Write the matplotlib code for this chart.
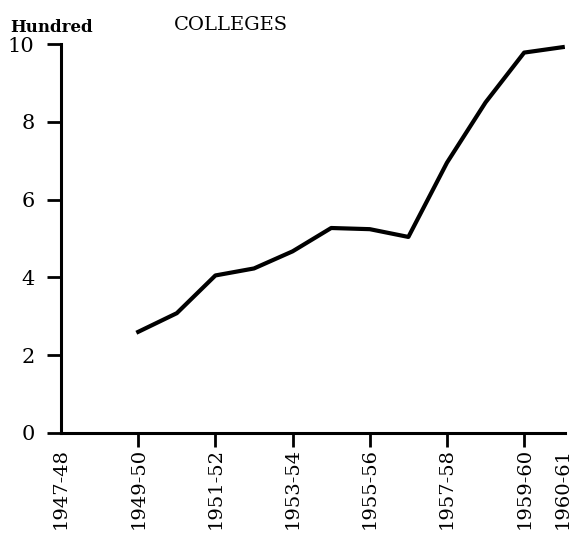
import matplotlib.pyplot as plt
import numpy as np

plt.rcParams['font.family'] = 'DejaVu Serif'

# colleges, in hundreds, by academic year
years = ['1949-50', '1950-51', '1951-52', '1952-53', '1953-54', '1954-55',
         '1955-56', '1956-57', '1957-58', '1958-59', '1959-60', '1960-61']
colleges = [2.6, 3.08, 4.05, 4.23, 4.67, 5.27, 5.24, 5.04, 6.95, 8.5, 9.78, 9.92]

tick_years = ['1947-48', '1949-50', '1951-52', '1953-54', '1955-56',
              '1957-58', '1959-60', '1960-61']
y_ticks = [0, 2, 4, 6, 8, 10]

first = 1947
x = np.array([int(y[:4]) - first for y in years])
xt = np.array([int(y[:4]) - first for y in tick_years])

fig = plt.figure(figsize=(5.73, 5.35), dpi=100)
ax = fig.add_axes([0.1065, 0.1907, 0.879, 0.727])

ax.plot(x, colleges, color='black', lw=3, solid_joinstyle='round')

ax.set_xlim(0, 13.05)
ax.set_ylim(0, 10)
ax.set_xticks(xt)
ax.set_xticklabels(tick_years, rotation=90, fontsize=14)
ax.set_yticks(y_ticks)
ax.set_yticklabels([str(v) for v in y_ticks], fontsize=15)
ax.tick_params(axis='x', length=10, width=2, pad=1)
ax.tick_params(axis='y', length=10, width=2, pad=9)
ax.xaxis.get_major_ticks()[-1].tick1line.set_visible(False)
ax.xaxis.get_major_ticks()[0].tick1line.set_visible(False)

for s in ['top', 'right']:
    ax.spines[s].set_visible(False)
for s in ['left', 'bottom']:
    ax.spines[s].set_linewidth(2.2)

fig.text(0.018, 0.948, 'Hundred', fontsize=12, fontweight='bold', ha='left', va='center')
fig.text(0.403, 0.953, 'COLLEGES', fontsize=14, ha='center', va='center')

fig.savefig('out.png', dpi=100)
